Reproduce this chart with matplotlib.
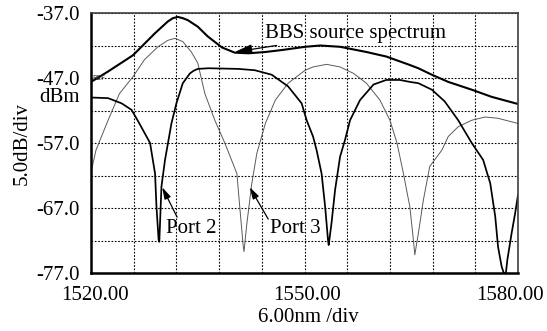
import numpy as np
import matplotlib.pyplot as plt
import matplotlib.transforms as mtransforms

plt.rcParams['font.family'] = ['Liberation Serif', 'DejaVu Serif']

# wavelength (nm) / power (dBm)
bbs_wl = [1520.0, 1522.4, 1525.9, 1529.0, 1530.8, 1531.5, 1532.2, 1532.9, 1533.6, 1535.0,
          1536.4, 1538.4, 1540.2, 1542.1, 1544.5, 1546.8, 1550.1, 1552.2, 1555.0,
          1558.7, 1561.5, 1564.8, 1566.0, 1567.9, 1570.2, 1573.5, 1576.3, 1580.0]
bbs_db = [-47.6, -46.0, -43.5, -40.1, -38.3, -37.8, -37.6, -37.8, -38.1, -39.1,
          -40.6, -42.3, -43.1, -43.2, -43.0, -42.7, -42.2, -42.0, -42.2,
          -43.0, -43.7, -45.0, -45.5, -46.5, -47.6, -48.8, -49.9, -51.0]

port2_wl = [1520.0, 1522.4, 1524.3, 1525.7, 1526.8, 1527.8, 1528.3, 1529.0, 1529.2,
            1529.5, 1529.6, 1529.9, 1530.4, 1530.9, 1531.3, 1532.0, 1532.9, 1533.9,
            1534.4, 1535.0, 1536.5, 1540.7, 1543.0, 1545.4, 1547.7, 1549.6, 1550.3, 1551.2,
            1551.7, 1552.4, 1552.9, 1553.3, 1553.4, 1553.8, 1554.3, 1555.0, 1555.7,
            1556.4, 1557.8, 1559.7, 1561.5, 1563.4, 1564.8, 1566.0, 1567.9, 1569.7,
            1571.6, 1573.5, 1575.1, 1576.1, 1576.8, 1577.2, 1577.7, 1578.0, 1578.3,
            1578.5, 1579.1, 1579.6, 1580.0]
port2_db = [-50.0, -50.1, -50.9, -51.9, -54.0, -56.0, -57.0, -61.7, -66.8,
            -71.9, -72.2, -63.7, -59.6, -56.5, -54.0, -50.9, -47.8, -46.3,
            -45.9, -45.6, -45.5, -45.6, -45.8, -46.5, -48.3, -50.9, -53.5, -56.0,
            -58.1, -61.7, -66.8, -71.9, -72.7, -69.3, -64.2, -59.1, -56.5,
            -53.5, -50.4, -48.0, -47.3, -47.3, -47.6, -47.8, -48.8, -50.6,
            -53.5, -57.0, -59.6, -63.2, -68.3, -73.0, -76.0, -77.0, -77.0,
            -75.0, -70.9, -67.8, -65.0]

port3_wl = [1520.0, 1520.7, 1522.4, 1524.0, 1525.9, 1527.5, 1529.4, 1530.8, 1531.8,
            1532.9, 1534.1, 1535.0, 1536.0, 1537.4, 1538.8, 1540.5, 1540.9, 1541.4,
            1541.5, 1541.9, 1542.6, 1543.3, 1544.5, 1545.9, 1547.7, 1550.1, 1551.2,
            1553.1, 1555.0, 1556.9, 1558.7, 1560.6, 1562.0, 1563.0, 1563.9, 1564.8,
            1565.3, 1565.5, 1566.0, 1566.7, 1567.6, 1569.3, 1570.2, 1571.6, 1573.5,
            1575.4, 1577.2, 1580.0]
port3_db = [-61.5, -58.1, -53.5, -49.4, -46.8, -44.2, -42.2, -41.2, -40.9,
            -41.4, -43.0, -44.7, -49.4, -53.5, -57.0, -61.7, -66.8, -73.0,
            -73.7, -69.4, -63.2, -58.6, -54.0, -50.4, -47.8, -45.8, -45.3,
            -44.9, -45.3, -46.3, -47.8, -50.4, -53.5, -57.0, -61.7, -66.8,
            -71.9, -74.2, -70.9, -65.8, -60.6, -58.1, -56.0, -54.5, -53.5,
            -53.0, -53.2, -54.0]

xtick_labels = {1520: '1520.00', 1550: '1550.00', 1580: '1580.00'}
ytick_labels = {-37: '-37.0', -47: '-47.0', -57: '-57.0', -67: '-67.0', -77: '-77.0'}

fig = plt.figure(figsize=(5.47, 3.31), dpi=100)
ax = fig.add_axes([91/547, 1-273/331, (518-91)/547, (273-13)/331])

ax.plot(port3_wl, port3_db, color='#5a5a5a', lw=0.7)
ax.plot(port2_wl, port2_db, color='black', lw=1.25)
ax.plot(bbs_wl, bbs_db, color='black', lw=1.5)

ax.set_xlim(1520, 1580)
ax.set_ylim(-77, -37)
xt = np.arange(1520, 1581, 6)
yt = np.arange(-77, -36, 5)
ax.set_xticks(xt)
ax.set_yticks(yt)
ax.set_xticklabels([xtick_labels.get(int(v), '') for v in xt])
ax.set_yticklabels([ytick_labels.get(int(v), '') for v in yt])
ax.tick_params(length=0, labelsize=15)
ax.tick_params(axis='y', pad=8)
ax.tick_params(axis='x', pad=9)
ax.grid(True, color='black', linestyle=(0, (1.5, 1.5)), lw=0.8)

# nudge the x labels the way the instrument printed them
shifts = {'1520.00': 4, '1550.00': 3, '1580.00': -8}
for lab in ax.get_xticklabels():
    dx = shifts.get(lab.get_text(), 0)
    lab.set_transform(lab.get_transform() + mtransforms.ScaledTranslation(dx/100, 0, fig.dpi_scale_trans))

for s in ['left', 'bottom']:
    ax.spines[s].set_linewidth(1.8)
for s in ['top', 'right']:
    ax.spines[s].set_linewidth(1.2)
    ax.spines[s].set_color('#404040')

arrow = dict(arrowstyle='-|>,head_length=0.7,head_width=0.2', color='black', lw=0.9,
             shrinkA=0, shrinkB=0)
ax.annotate('BBS source spectrum', xy=(1540.2, -43.0), xytext=(1544.4, -40.1),
            fontsize=15, va='center', ha='left', arrowprops=arrow)
ax.annotate('', xy=(1530.0, -63.8), xytext=(1532.1, -68.4), arrowprops=arrow)
ax.text(1530.5, -70.1, 'Port 2', fontsize=15, va='center', ha='left')
ax.annotate('', xy=(1542.3, -63.8), xytext=(1544.9, -68.7), arrowprops=arrow)
ax.text(1545.2, -70.1, 'Port 3', fontsize=15, va='center', ha='left')
ax.text(1520.2, -47.0, 'REF', fontsize=5, va='center', ha='left', color='#303030',
        family='DejaVu Sans')

fig.text(80/547, 1-98/331, 'dBm', fontsize=15, ha='right', va='center')
fig.text(22/547, 1-144/331, '5.0dB/div', fontsize=15, rotation=90, ha='center', va='center')
fig.text(308/547, 1-317/331, '6.00nm /div', fontsize=15, ha='center', va='center')

fig.savefig('out.png', dpi=100)
